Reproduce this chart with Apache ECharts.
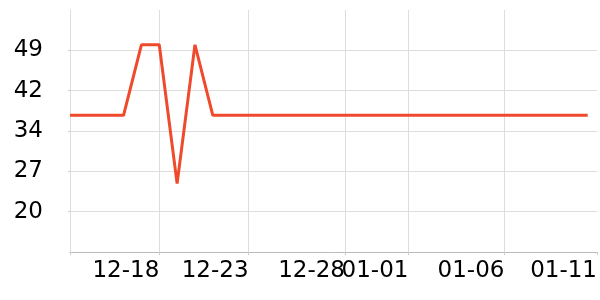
<!DOCTYPE html>
<html>
<head>
<meta charset="utf-8">
<script src="https://cdn.jsdelivr.net/npm/echarts@6/dist/echarts.min.js"></script>
<style>html,body{margin:0;padding:0;background:#fff}#c{width:600px;height:300px}</style>
</head>
<body>
<div id="c"></div>
<script>
const dates = ['2023-12-13','2023-12-14','2023-12-15','2023-12-16','2023-12-17','2023-12-18','2023-12-19','2023-12-20','2023-12-21','2023-12-22','2023-12-23','2023-12-24','2023-12-25','2023-12-26','2023-12-27','2023-12-28','2023-12-29','2023-12-30','2023-12-31','2024-01-01','2024-01-02','2024-01-03','2024-01-04','2024-01-05','2024-01-06','2024-01-07','2024-01-08','2024-01-09','2024-01-10','2024-01-11'];
const values = [37.3,37.3,37.3,37.3,50,50,25,50,37.3,37.3,37.3,37.3,37.3,37.3,37.3,37.3,37.3,37.3,37.3,37.3,37.3,37.3,37.3,37.3,37.3,37.3,37.3,37.3,37.3,37.3];
const xMin = '2023-12-13 00:00';
const xMax = '2024-01-11 12:30';
const xTickValues = ['2023-12-18 00:00','2023-12-23 00:00','2023-12-28 09:40','2023-12-31 23:00','2024-01-06 08:00','2024-01-11 12:30'];
const xTickLabels = ['12-18','12-23','12-28','01-01','01-06','01-11'];
const yMin = 12.70, yMax = 56.26, yInterval = 7.26;

const ts = s => echarts.time.parse(s).getTime();
const tickTs = xTickValues.map(ts);
const chart = echarts.init(document.getElementById('c'), null, {renderer: 'canvas'});
chart.setOption({
  animation: false,
  grid: {left: 70, right: 2, top: 10, bottom: 48, containLabel: false},
  xAxis: {
    type: 'value',
    min: ts(xMin), max: ts(xMax),
    axisLine: {lineStyle: {color: '#bbb'}},
    axisTick: {show: true, length: 3, lineStyle: {color: '#ccc'}, customValues: [ts(xMin)].concat(tickTs)},
    splitLine: {show: true, showMaxLine: false, lineStyle: {color: '#ddd'}},
    axisLabel: {fontSize: 23, color: '#000', fontFamily: 'DejaVu Sans', align: 'right', hideOverlap: false,
      showMinLabel: true, showMaxLabel: true,
      customValues: tickTs,
      formatter: (v) => {
        const k = tickTs.indexOf(v);
        return k >= 0 ? xTickLabels[k] : '';
      }}
  },
  yAxis: {
    type: 'value',
    min: yMin, max: yMax, interval: yInterval,
    axisLine: {show: true, lineStyle: {color: '#ddd'}},
    axisTick: {show: true, length: 2, lineStyle: {color: '#ccc'}},
    splitLine: {show: true, showMaxLine: false, showMinLine: false, lineStyle: {color: '#ddd'}},
    axisLabel: {fontSize: 23, color: '#000', fontFamily: 'DejaVu Sans', margin: 27, showMinLabel: false, showMaxLabel: false,
      formatter: v => String(Math.round(v))}
  },
  series: [{
    type: 'line',
    data: dates.map((d, i) => [ts(d), values[i]]),
    showSymbol: false,
    lineStyle: {color: '#ef4a2c', width: 3},
    itemStyle: {color: '#ef4a2c'}
  }]
});
</script>
</body>
</html>
